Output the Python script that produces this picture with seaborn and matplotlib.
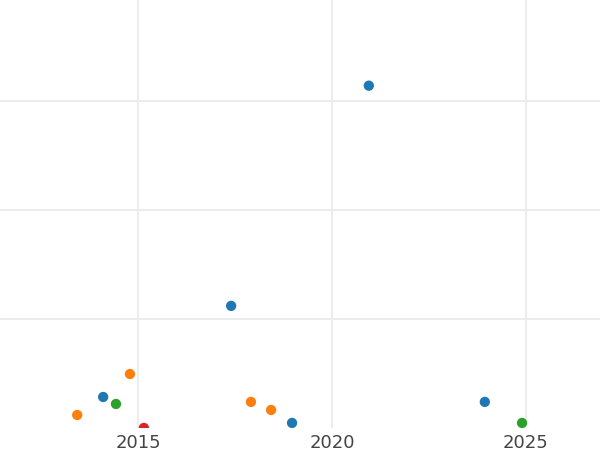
import matplotlib
matplotlib.use("Agg")
import matplotlib.pyplot as plt
import seaborn as sns
import pandas as pd

# values
years = [2020.95, 2017.40, 2014.79, 2014.10, 2014.43, 2013.43, 2015.15,
         2017.91, 2018.43, 2018.97, 2023.94, 2024.90]
values = [31.4, 11.2, 4.95, 2.84, 2.2, 1.19, 0.0,
          2.39, 1.65, 0.46, 2.39, 0.46]
groups = ['A', 'A', 'B', 'A', 'C', 'B', 'D',
          'B', 'B', 'A', 'A', 'C']
palette = {'A': '#1f77b4', 'B': '#ff7f0e', 'C': '#2ca02c', 'D': '#d62728'}

df = pd.DataFrame({'year': years, 'value': values, 'group': groups})

sns.set_style('whitegrid', {'grid.color': '#ebebeb', 'axes.edgecolor': 'white'})
fig = plt.figure(figsize=(6, 4.5), dpi=100)
ax = fig.add_axes([0, 0.049, 1, 0.951])

sns.scatterplot(data=df, x='year', y='value', hue='group', palette=palette,
                s=55, linewidth=0, legend=False, ax=ax)

ax.set_xlim(2011.44, 2026.91)
ax.set_ylim(0, 39.26)
ax.set_xticks([2015, 2020, 2025])
ax.set_yticks([10, 20, 30])
ax.set_yticklabels([])
ax.tick_params(axis='both', length=0, labelsize=13, labelcolor='#444444', pad=4)
ax.grid(True, linewidth=1.3)
ax.set_xlabel('')
ax.set_ylabel('')
for sp in ax.spines.values():
    sp.set_visible(False)

plt.savefig('out.png', dpi=100)
